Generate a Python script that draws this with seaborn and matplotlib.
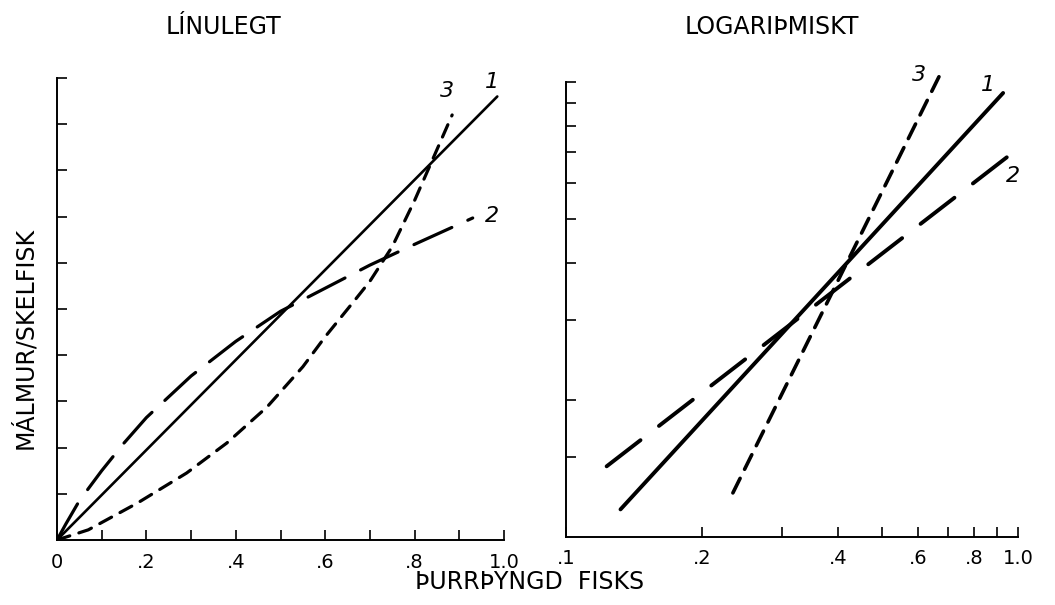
import matplotlib
matplotlib.use("Agg")
import matplotlib.pyplot as plt
from matplotlib.ticker import NullLocator
import seaborn as sns

# ---- data: linear panel (LÍNULEGT) ----
lin_x1 = [0.0, 0.985]
lin_y1 = [0.0, 9.6]
lin_x2 = [0.0, 0.02, 0.05, 0.10, 0.15, 0.20, 0.30, 0.40, 0.50, 0.60, 0.70, 0.80, 0.93]
lin_y2 = [0.0, 0.35, 0.85, 1.50, 2.10, 2.65, 3.55, 4.30, 4.95, 5.45, 5.95, 6.40, 6.97]
lin_x3 = [0.0, 0.07, 0.18, 0.29, 0.38, 0.47, 0.55, 0.60, 0.667, 0.70, 0.75, 0.80, 0.85, 0.884]
lin_y3 = [0.0, 0.22, 0.80, 1.45, 2.10, 2.88, 3.75, 4.40, 5.20, 5.60, 6.35, 7.35, 8.45, 9.20]

# ---- data: logarithmic panel (LOGARIÞMISKT) ----
log_x1 = [0.132, 0.927]
log_y1 = [0.115, 0.946]
log_x2 = [0.123, 0.946]
log_y2 = [0.143, 0.684]
log_x3 = [0.234, 0.676]
log_y3 = [0.125, 1.05]

# ---- ticks and labels ----
lin_xticks = [0.1 * i for i in range(11)]
lin_xlabels = ["0", "", ".2", "", ".4", "", ".6", "", ".8", "", "1.0"]
lin_yticks = list(range(1, 11))
log_xticks = [0.1, 0.2, 0.3, 0.4, 0.5, 0.6, 0.7, 0.8, 0.9, 1.0]
log_xlabels = [".1", ".2", "", ".4", "", ".6", "", ".8", "", "1.0"]
log_yticks = [0.15, 0.2, 0.3, 0.4, 0.5, 0.6, 0.7, 0.8, 0.9, 1.0]

curve_names = ["1", "2", "3"]
lin_label_pos = [(0.973, 9.91), (0.973, 7.01), (0.872, 9.72)]
log_label_pos = [(0.858, 0.985), (0.975, 0.622), (0.604, 1.036)]

titles = ["LÍNULEGT", "LOGARIÞMISKT"]
x_title = "ÞURRÞYNGD  FISKS"
y_title = "MÁLMUR/SKELFISK"

sns.set_theme(style="ticks")
plt.rcParams["font.family"] = ["DejaVu Sans"]
plt.rcParams["xtick.labelsize"] = 14
plt.rcParams["ytick.labelsize"] = 14

fig = plt.figure(figsize=(10.55, 6.05), dpi=100)
fig.patch.set_facecolor("white")
ax1 = fig.add_axes([57 / 1055, 65 / 605, 447 / 1055, 462 / 605])
ax2 = fig.add_axes([566 / 1055, 68 / 605, 452 / 1055, 455 / 605])

ink = "black"
tick_font = 14
caption_font = 17


def style_axes(ax):
    ax.set_facecolor("white")
    for side in ("top", "right"):
        ax.spines[side].set_visible(False)
    for side in ("left", "bottom"):
        ax.spines[side].set_linewidth(1.4)
        ax.spines[side].set_color(ink)
    ax.tick_params(axis="both", which="major", direction="in", length=7.5,
                   width=1.2, color=ink)
    ax.tick_params(axis="x", which="major", labelsize=tick_font, pad=9,
                   labelcolor=ink)
    ax.tick_params(axis="y", labelleft=False)
    ax.grid(False)


# linear panel
sns.lineplot(x=lin_x1, y=lin_y1, ax=ax1, color=ink, lw=1.9,
             solid_capstyle="round", sort=False)
sns.lineplot(x=lin_x2, y=lin_y2, ax=ax1, color=ink, lw=2.3,
             linestyle=(0, (13, 5.5)), dash_capstyle="round", sort=False)
sns.lineplot(x=lin_x3, y=lin_y3, ax=ax1, color=ink, lw=2.3,
             linestyle=(0, (4.2, 3.0)), dash_capstyle="round", sort=False)
ax1.set_xlim(0, 1.0)
ax1.set_ylim(0, 10)
style_axes(ax1)
ax1.set_xticks(lin_xticks, lin_xlabels, fontsize=tick_font)
ax1.set_yticks(lin_yticks)
ax1.tick_params(axis="y", labelleft=False)
for name, (tx, ty) in zip(curve_names, lin_label_pos):
    ax1.text(tx, ty, name, fontsize=16, style="italic", ha="center",
             va="center", color=ink, clip_on=False)

# logarithmic panel
ax2.set_xscale("log")
ax2.set_yscale("log")
sns.lineplot(x=log_x1, y=log_y1, ax=ax2, color=ink, lw=2.8,
             solid_capstyle="round", sort=False)
sns.lineplot(x=log_x2, y=log_y2, ax=ax2, color=ink, lw=2.8,
             linestyle=(0, (11, 6)), dash_capstyle="round", sort=False)
sns.lineplot(x=log_x3, y=log_y3, ax=ax2, color=ink, lw=2.6,
             linestyle=(0, (4.5, 2.8)), dash_capstyle="round", sort=False)
for ln in ax2.get_lines():
    ln.set_clip_on(False)
ax2.set_xlim(0.1, 1.0)
ax2.set_ylim(0.1, 1.0)
style_axes(ax2)
ax2.xaxis.set_minor_locator(NullLocator())
ax2.yaxis.set_minor_locator(NullLocator())
ax2.set_xticks(log_xticks, log_xlabels, fontsize=tick_font)
ax2.set_yticks(log_yticks)
ax2.xaxis.set_minor_locator(NullLocator())
ax2.yaxis.set_minor_locator(NullLocator())
ax2.tick_params(axis="y", labelleft=False)
for name, (tx, ty) in zip(curve_names, log_label_pos):
    ax2.text(tx, ty, name, fontsize=16, style="italic", ha="center",
             va="center", color=ink, clip_on=False)

# titles and axis captions
fig.text(223 / 1055, 1 - 27 / 605, titles[0], fontsize=caption_font,
         ha="center", va="center", color=ink)
fig.text(772 / 1055, 1 - 27 / 605, titles[1], fontsize=caption_font,
         ha="center", va="center", color=ink)
fig.text(530 / 1055, 1 - 582 / 605, x_title, fontsize=caption_font,
         ha="center", va="center", color=ink)
fig.text(24 / 1055, 1 - 338 / 605, y_title, fontsize=caption_font,
         ha="center", va="center", rotation=90, color=ink)

fig.savefig("out.png", dpi=100, facecolor="white")
